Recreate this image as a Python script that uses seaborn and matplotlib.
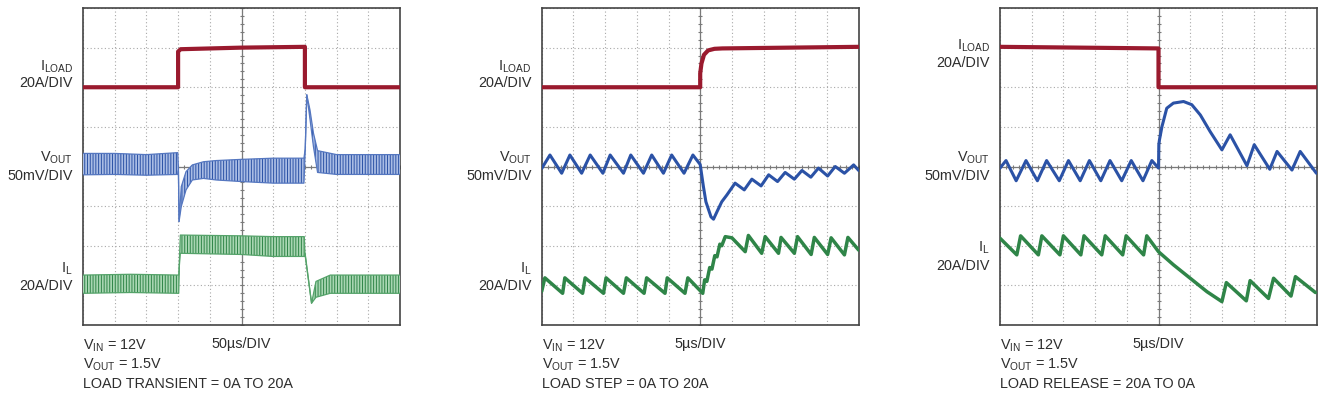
import numpy as np
import pandas as pd
import matplotlib
matplotlib.use("Agg")
import matplotlib.pyplot as plt
from matplotlib import font_manager
import seaborn as sns

# ---------------- data (divisions: x 0..10, y 0..8) ----------------
# Panel 1 : load transient 0A -> 20A -> 0A, 50us/DIV
p1_iload_x = [0.0, 3.0, 3.0, 3.08, 5.0, 7.0, 7.0, 10.0]
p1_iload_y = [6.0, 6.0, 6.9, 6.96, 7.0, 7.02, 6.0, 6.0]

p1_vout_x = [0.0, 1.0, 2.0, 2.99, 3.01, 3.03, 3.10, 3.25, 3.45, 3.80, 4.20, 5.0, 6.0, 6.97,
             7.01, 7.06, 7.16, 7.27, 7.40, 8.0, 10.0]
p1_vout_hi = [4.33, 4.33, 4.30, 4.35, 3.95, 2.61, 3.49, 3.87, 4.04, 4.12, 4.15, 4.18, 4.21, 4.21,
              4.45, 5.81, 5.43, 4.84, 4.40, 4.30, 4.30]
p1_vout_lo = [3.79, 3.80, 3.78, 3.80, 3.90, 2.61, 2.99, 3.41, 3.66, 3.70, 3.66, 3.62, 3.58, 3.58,
              4.40, 5.81, 5.20, 4.50, 3.85, 3.80, 3.80]

p1_il_x = [0.0, 1.5, 3.02, 3.04, 3.07, 5.0, 6.0, 6.98, 7.0, 7.21, 7.35, 7.80, 10.0]
p1_il_hi = [1.26, 1.28, 1.26, 1.60, 2.27, 2.25, 2.23, 2.23, 1.85, 0.55, 1.10, 1.26, 1.26]
p1_il_lo = [0.80, 0.82, 0.80, 1.50, 1.81, 1.78, 1.73, 1.73, 1.80, 0.55, 0.70, 0.80, 0.80]

# Panel 2 : load step 0A -> 20A, 5us/DIV
p2_iload_x = [0.0, 5.0, 5.0, 5.04, 5.12, 5.25, 5.45, 5.70, 10.0]
p2_iload_y = [6.0, 6.0, 6.35, 6.60, 6.82, 6.93, 6.97, 6.98, 7.02]

p2_vout_x = [0.0, 0.26, 0.63, 0.89, 1.26, 1.53, 1.93, 2.16, 2.58, 2.81, 3.21, 3.47, 3.84, 4.10,
             4.49, 4.77, 5.0, 5.10, 5.18, 5.34, 5.42, 5.53, 5.68, 5.84, 6.10, 6.39, 6.63, 6.92,
             7.16, 7.44, 7.68, 7.97, 8.21, 8.49, 8.73, 9.02, 9.26, 9.55, 9.84, 10.0]
p2_vout_y = [3.95, 4.29, 3.83, 4.29, 3.83, 4.29, 3.83, 4.29, 3.83, 4.29, 3.83, 4.29, 3.83, 4.29,
             3.83, 4.29, 4.05, 3.50, 3.11, 2.73, 2.67, 2.86, 3.11, 3.28, 3.58, 3.41, 3.68, 3.51,
             3.79, 3.62, 3.85, 3.68, 3.90, 3.73, 3.96, 3.76, 4.00, 3.83, 4.04, 3.90]

p2_il_x = [0.0, 0.10, 0.66, 0.73, 1.29, 1.37, 1.95, 2.03, 2.58, 2.67, 3.23, 3.31, 3.89, 3.96,
           4.52, 4.61, 5.08, 5.14, 5.21, 5.30, 5.37, 5.46, 5.53, 5.62, 5.68, 5.79, 6.00, 6.42,
           6.52, 6.94, 7.05, 7.47, 7.55, 7.97, 8.07, 8.50, 8.60, 9.02, 9.13, 9.55, 9.66, 10.0]
p2_il_y = [0.85, 1.19, 0.80, 1.19, 0.80, 1.19, 0.80, 1.19, 0.80, 1.19, 0.80, 1.19, 0.80, 1.19,
           0.80, 1.19, 0.80, 1.14, 1.10, 1.45, 1.41, 1.75, 1.72, 2.04, 2.00, 2.23, 2.20, 1.85,
           2.26, 1.81, 2.23, 1.81, 2.21, 1.81, 2.23, 1.78, 2.21, 1.78, 2.20, 1.77, 2.21, 1.89]

# Panel 3 : load release 20A -> 0A, 5us/DIV
p3_iload_x = [0.0, 5.0, 5.0, 10.0]
p3_iload_y = [7.02, 6.98, 6.0, 6.0]

p3_vout_x = [0.0, 0.19, 0.51, 0.82, 1.18, 1.47, 1.87, 2.16, 2.53, 2.82, 3.18, 3.47, 3.84, 4.14,
             4.51, 4.79, 5.0, 5.01, 5.03, 5.11, 5.26, 5.47, 5.79, 6.05, 6.32, 6.63, 7.0, 7.26,
             7.79, 8.02, 8.51, 8.74, 9.21, 9.47, 9.98]
p3_vout_y = [3.96, 4.15, 3.64, 4.15, 3.64, 4.15, 3.64, 4.15, 3.64, 4.15, 3.64, 4.15, 3.64, 4.15,
             3.64, 4.15, 3.96, 4.55, 4.67, 5.01, 5.47, 5.60, 5.64, 5.56, 5.30, 4.88, 4.42, 4.80,
             4.02, 4.55, 3.93, 4.38, 3.91, 4.38, 3.83]

p3_il_x = [0.0, 0.53, 0.65, 1.21, 1.32, 1.89, 2.0, 2.55, 2.65, 3.21, 3.32, 3.87, 3.98, 4.53,
           4.63, 5.0, 5.47, 6.0, 6.53, 7.0, 7.14, 7.77, 7.89, 8.47, 8.63, 9.18, 9.32, 9.95]
p3_il_y = [2.19, 1.77, 2.25, 1.77, 2.25, 1.77, 2.25, 1.77, 2.25, 1.77, 2.25, 1.77, 2.25, 1.77,
           2.25, 1.85, 1.52, 1.18, 0.84, 0.59, 1.07, 0.61, 1.12, 0.67, 1.18, 0.73, 1.22, 0.82]

# label texts
time_div = ["50\u00b5s/DIV", "5\u00b5s/DIV", "5\u00b5s/DIV"]
cond_line = ["LOAD TRANSIENT = 0A TO 20A", "LOAD STEP = 0A TO 20A", "LOAD RELEASE = 20A TO 0A"]
vin_text = r"$\mathregular{V_{IN}}$ = 12V"
vout_text = r"$\mathregular{V_{OUT}}$ = 1.5V"
trace_names = [r"$\mathregular{I_{LOAD}}$", r"$\mathregular{V_{OUT}}$", r"$\mathregular{I_{L}}$"]
trace_scales = ["20A/DIV", "50mV/DIV", "20A/DIV"]
# (name baseline, scale baseline) in divisions, per panel and per trace
label_y = [
    [(6.41, 6.01), (4.12, 3.66), (1.31, 0.88)],
    [(6.41, 6.01), (4.12, 3.66), (1.31, 0.88)],
    [(6.94, 6.52), (4.12, 3.66), (1.84, 1.39)],
]

# ---------------- style ----------------
sns.set_theme(style="white")
avail = {f.name for f in font_manager.fontManager.ttflist}
if "Liberation Sans Narrow" in avail:
    FAM, FS = "Liberation Sans Narrow", 12.3
else:
    FAM, FS = "Liberation Sans", 10.4
plt.rcParams["font.family"] = [FAM, "DejaVu Sans"]
plt.rcParams["hatch.linewidth"] = 0.7

RED = "#9a1a2e"
BLUE = "#2b52a6"
BLUE_M = "#5577c0"
BLUE_L = "#a9bce4"
GREEN = "#2f8548"
GREEN_M = "#55a36a"
GREEN_L = "#a8d6b2"
TXT = "#2e2e2e"
GRID = "#a8a8a8"
CTR = "#7a7a7a"

W, H = 1323, 396
fig = plt.figure(figsize=(W / 100, H / 100), dpi=100)
lefts = [83, 541.7, 1000]
ax_w, ax_h, ax_top = 317, 317, 8

axes = []
for lx in lefts:
    ax = fig.add_axes([lx / W, (H - ax_top - ax_h) / H, ax_w / W, ax_h / H])
    ax.set_xlim(0, 10)
    ax.set_ylim(0, 8)
    ax.set_xticks(range(11))
    ax.set_yticks(range(9))
    ax.set_xticklabels([])
    ax.set_yticklabels([])
    ax.tick_params(length=0)
    ax.grid(True, color=GRID, linestyle=(0, (1, 2.2)), linewidth=0.8)
    for s in ax.spines.values():
        s.set_color("#444444")
        s.set_linewidth(1.2)
    ax.axvline(5, color=CTR, lw=0.9, zorder=1)
    ax.axhline(4, color=CTR, lw=0.9, zorder=1)
    tx = np.arange(0, 10.001, 0.2)
    ty = np.arange(0, 8.001, 0.2)
    ax.plot(tx, np.full_like(tx, 4.0), ls="none", marker="|", ms=3.2, mew=0.8, color=CTR, zorder=1)
    ax.plot(np.full_like(ty, 5.0), ty, ls="none", marker="_", ms=3.2, mew=0.8, color=CTR, zorder=1)
    axes.append(ax)

# ---------------- panel 1 (ripple bands) ----------------
ax = axes[0]
ax.fill_between(p1_vout_x, p1_vout_lo, p1_vout_hi, facecolor=BLUE_L, edgecolor=BLUE,
                hatch="||||||", linewidth=0.0, zorder=3)
sns.lineplot(x=p1_vout_x, y=p1_vout_hi, sort=False, estimator=None, color=BLUE_M, lw=0.9, ax=ax, zorder=4)
sns.lineplot(x=p1_vout_x, y=p1_vout_lo, sort=False, estimator=None, color=BLUE_M, lw=0.9, ax=ax, zorder=4)
ax.fill_between(p1_il_x, p1_il_lo, p1_il_hi, facecolor=GREEN_L, edgecolor=GREEN,
                hatch="||||||", linewidth=0.0, zorder=3)
sns.lineplot(x=p1_il_x, y=p1_il_hi, sort=False, estimator=None, color=GREEN_M, lw=0.9, ax=ax, zorder=4)
sns.lineplot(x=p1_il_x, y=p1_il_lo, sort=False, estimator=None, color=GREEN_M, lw=0.9, ax=ax, zorder=4)
sns.lineplot(x=p1_iload_x, y=p1_iload_y, sort=False, estimator=None, color=RED, lw=3.0, ax=ax, zorder=5)

# ---------------- panels 2, 3 (lines) ----------------
for ax, (ix, iy, vx, vy, lx_, ly_) in zip(axes[1:], [
        (p2_iload_x, p2_iload_y, p2_vout_x, p2_vout_y, p2_il_x, p2_il_y),
        (p3_iload_x, p3_iload_y, p3_vout_x, p3_vout_y, p3_il_x, p3_il_y)]):
    sns.lineplot(x=ix, y=iy, sort=False, estimator=None, color=RED, lw=3.0, ax=ax, zorder=5)
    sns.lineplot(x=vx, y=vy, sort=False, estimator=None, color=BLUE, lw=2.2, ax=ax, zorder=4)
    sns.lineplot(x=lx_, y=ly_, sort=False, estimator=None, color=GREEN, lw=2.5, ax=ax, zorder=4)

# ---------------- texts ----------------
for i, ax in enumerate(axes):
    for j in range(3):
        yn, ys = label_y[i][j]
        ax.text(-0.32, yn, trace_names[j], ha="right", va="baseline", fontsize=FS,
                color=TXT, clip_on=False)
        ax.text(-0.32, ys, trace_scales[j], ha="right", va="baseline", fontsize=FS,
                color=TXT, clip_on=False)
    ax.text(0.0, -0.078, vin_text, transform=ax.transAxes, ha="left", va="baseline",
            fontsize=FS, color=TXT)
    ax.text(0.5, -0.074, time_div[i], transform=ax.transAxes, ha="center", va="baseline",
            fontsize=FS, color=TXT)
    ax.text(0.0, -0.139, vout_text, transform=ax.transAxes, ha="left", va="baseline",
            fontsize=FS, color=TXT)
    ax.text(0.0, -0.199, cond_line[i], transform=ax.transAxes, ha="left", va="baseline",
            fontsize=FS, color=TXT)
    ax.set_xlabel("")
    ax.set_ylabel("")

fig.savefig("out.png", dpi=100)
